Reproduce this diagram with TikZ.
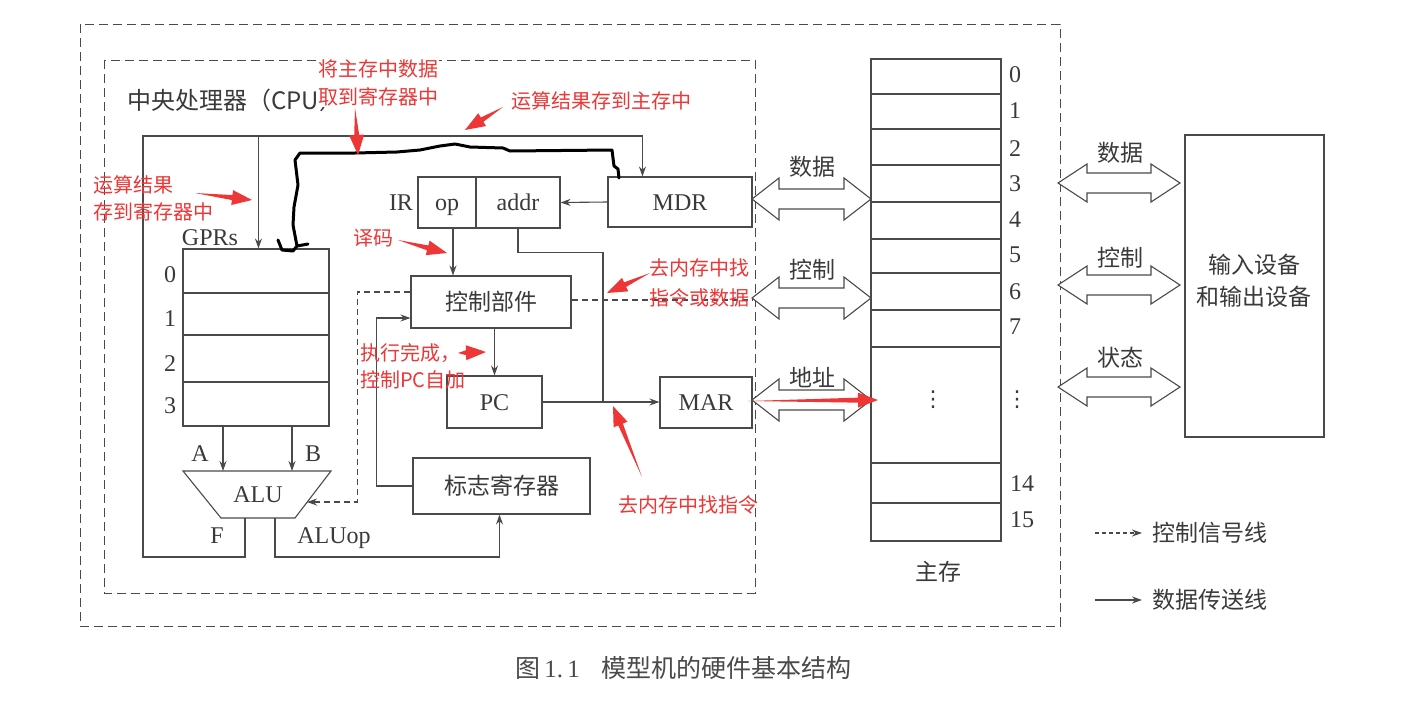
\documentclass[tikz,border=0pt]{standalone}
\usepackage{fontspec}
\setmainfont{Liberation Serif}
\newfontfamily\cjk{Noto Sans CJK SC}
\newfontfamily\dvs{DejaVu Sans}
\usetikzlibrary{arrows.meta,calc}
\definecolor{lc}{HTML}{4A4A4A}
\definecolor{tc}{HTML}{3A3A3A}
\definecolor{annored}{HTML}{EE3636}
\newcommand\fsLat{\fontsize{24}{28}\selectfont}
\newcommand\fsCJK{\cjk\fontsize{23}{27}\selectfont}
\newcommand\fsNote{\cjk\fontsize{20}{28}\selectfont}
\newcommand\dblarr[5]{%
 \draw[ln,fill=white] (#1,#3) -- ({#1+#4},{#3-#5}) -- ({#1+#4},{#3-10}) -- ({#2-#4},{#3-10}) -- ({#2-#4},{#3-#5}) -- (#2,#3) -- ({#2-#4},{#3+#5}) -- ({#2-#4},{#3+10}) -- ({#1+#4},{#3+10}) -- ({#1+#4},{#3+#5}) -- cycle;}
\newcommand\redarr[2]{%
 \fill[annored] (#1) -- ($($(#2)!20pt!(#1)$)!2.5pt!90:(#2)$) -- ($($(#2)!20pt!(#1)$)!7.5pt!90:(#2)$) -- (#2) -- ($($(#2)!20pt!(#1)$)!7.5pt!-90:(#2)$) -- ($($(#2)!20pt!(#1)$)!2.5pt!-90:(#2)$) -- cycle;}
\tikzset{
 ln/.style={draw=lc, line width=1.1pt},
 box/.style={ln, inner sep=0pt, font=\fsLat, text=tc, text height=16pt, text depth=0pt},
 cbox/.style={ln, inner sep=0pt, font=\fsCJK, text=tc},
 arr/.style={ln, -{Stealth[length=10pt,width=7pt]}},
 ctl/.style={ln, dash pattern=on 6pt off 4pt},
 ctlarr/.style={ctl, -{Stealth[length=10pt,width=7pt]}},
 frame/.style={draw=lc, line width=1pt, dash pattern=on 9pt off 5pt},
 lat/.style={font=\fsLat, text=tc, inner sep=0pt, text height=16pt, text depth=0pt},
 cj/.style={font=\fsCJK, text=tc, inner sep=0pt},
 dots/.style={font=\dvs\fontsize{22}{26}\selectfont, text=tc, inner sep=0pt},
 note/.style={font=\fsNote, text=annored, align=left, anchor=west, inner sep=0pt},
 mrow/.style={ln, minimum width=130, inner sep=0pt},
}
\begin{document}
\begin{tikzpicture}[x=1pt,y=-1pt]
\useasboundingbox (0,0) rectangle (1418,715);
\fill[white] (0,0) rectangle (1418,715);

% frames
\draw[frame] (80,24) rectangle (1060,626);
\draw[frame] (104,60) rectangle (755,593);
\node[anchor=west, inner sep=0pt, text=tc] (cpulbl) at (127,100) {\fontsize{24}{28}\cjk 中央处理器（\fsLat CPU\fontsize{24}{28}\cjk ）};

% registers / units
\node[box, minimum width=58, minimum height=51] (op) at (447,202.5) {op};
\node[box, minimum width=84, minimum height=51] (addr) at (518,202.5) {addr};
\node[lat] (irl) at (401,202) {IR};
\node[box, minimum width=144, minimum height=50] (mdr) at (680,202) {MDR};
\node[cbox, minimum width=160, minimum height=52] (ctrl) at (491,302) {控制部件};
\node[box, minimum width=95, minimum height=52] (pc) at (494.5,402) {PC};
\node[box, minimum width=92, minimum height=51] (mar) at (706,402.5) {MAR};
\node[cbox, minimum width=177, minimum height=56] (flag) at (501.5,486) {标志寄存器};

% GPRs
\node[lat] (gprl) at (210,237) {GPRs};
\node[box, minimum width=146, minimum height=44] (g0) at (256,271) {};
\node[box, minimum width=146, minimum height=42] (g1) at (256,314) {};
\node[box, minimum width=146, minimum height=47] (g2) at (256,358.5) {};
\node[box, minimum width=146, minimum height=44] (g3) at (256,404) {};
\node[lat] (g0l) at (170,274) {0};
\node[lat] (g1l) at (170,318) {1};
\node[lat] (g2l) at (170,363) {2};
\node[lat] (g3l) at (170,405) {3};

% ALU
\draw[ln] (183,471) -- (331,471) -- (295,518) -- (221,518) -- cycle;
\node[lat] (alu) at (258,494) {ALU};
\coordinate (aluA) at (223,471);
\coordinate (aluB) at (292,471);
\coordinate (aluF) at (245,518);
\coordinate (aluOp) at (275,518);
\coordinate (aluR) at (307,502);
\node[lat] (al) at (200,453) {A};
\node[lat] (bl) at (313,453) {B};
\node[lat] (fl) at (217,535) {F};
\node[lat] (aluopl) at (334,535) {ALUop};

% data paths
\coordinate (mdrIn) at ($(mdr.north west)+(35,0)$);
\coordinate (gIn) at ($(g0.north west)+(76,0)$);
\coordinate (topL) at (143,136);
\coordinate (topG) at (gIn |- topL);
\coordinate (topM) at (mdrIn |- topL);
\draw[arr] (aluF) -- ++(0,39) -| (topL) -- (topM) -- (mdrIn);
\draw[arr] (topG) -- (gIn);
\draw[arr] (g3.south -| aluA) -- (aluA);
\draw[arr] (g3.south -| aluB) -- (aluB);
\draw[arr] (aluOp) -- ++(0,39) -| ($(flag.south)+(-2,0)$);
\draw[arr] (mdr.west) -- (addr.east);
\coordinate (opOut) at ($(op.south)+(6,0)$);
\draw[arr] (opOut) -- (opOut |- ctrl.north);
\draw[arr] (pc.north |- ctrl.south) -- (pc.north);
\draw[arr] (pc.east) -- (mar.west |- pc.east);
\coordinate (jn) at (603,402);
\draw[ln] (addr.south) -- ++(0,24) -| (jn);
\draw[arr] (flag.west) -- ++(-36,0) |- ($(ctrl.west)+(0,16)$);
% control paths
\draw[ctlarr] ($(ctrl.west)+(0,-10)$) -- ++(-53,0) |- (aluR);
\coordinate (ctlOut) at (752,300);
\draw[ctl] ($(ctrl.east)+(0,-2)$) -- (ctlOut);

% main memory
\node[mrow, minimum height=35] (m0) at (936,76.5) {};
\node[mrow, minimum height=35] (m1) at (936,111.5) {};
\node[mrow, minimum height=36] (m2) at (936,147) {};
\node[mrow, minimum height=37] (m3) at (936,183.5) {};
\node[mrow, minimum height=37] (m4) at (936,220.5) {};
\node[mrow, minimum height=34] (m5) at (936,256) {};
\node[mrow, minimum height=37] (m6) at (936,291.5) {};
\node[mrow, minimum height=37] (m7) at (936,328.5) {};
\node[mrow, minimum height=116] (mdots) at (936,405) {};
\node[dots] (mdl) at (933,400) {⋮};
\node[mrow, minimum height=40] (m14) at (936,483) {};
\node[mrow, minimum height=38] (m15) at (936,522) {};
\node[lat] (n0) at (1015,74) {0};
\node[lat] (n1) at (1015,110) {1};
\node[lat] (n2) at (1015,148) {2};
\node[lat] (n3) at (1015,183) {3};
\node[lat] (n4) at (1015,219) {4};
\node[lat] (n5) at (1015,254) {5};
\node[lat] (n6) at (1015,291) {6};
\node[lat] (n7) at (1015,326) {7};
\node[dots] (nd) at (1017,400) {⋮};
\node[lat] (n14) at (1022,483) {14};
\node[lat] (n15) at (1022,519) {15};
\node[cj] (ml) at (938,572) {主存};

% buses
\dblarr{752}{871}{199}{27}{21}
\dblarr{752}{871}{298}{27}{21}
\dblarr{752}{871}{400}{27}{21}
\node[cj] (b1) at (812,167) {数据};
\node[cj] (b2) at (812,270) {控制};
\node[cj] (b3) at (812,377) {地址};
\dblarr{1058}{1180}{183}{29}{19}
\dblarr{1058}{1180}{285}{29}{19}
\dblarr{1058}{1180}{387}{29}{19}
\node[cj] (r1) at (1120,153) {数据};
\node[cj] (r2) at (1120,258) {控制};
\node[cj] (r3) at (1120,358) {状态};
\node[cbox, minimum width=139, minimum height=302] (io) at (1254.5,286) {};
\node[cj, align=center, font=\cjk\fontsize{23}{32}\selectfont] (iol) at (1254,281) {输入设备\\和输出设备};

% legend
\coordinate (lg1a) at (1095,533);
\coordinate (lg1b) at (1142,533);
\coordinate (lg2a) at (1095,600);
\coordinate (lg2b) at (1142,600);
\draw[ctlarr, dash pattern=on 4pt off 3pt] (lg1a) -- (lg1b);
\draw[arr] (lg2a) -- (lg2b);
\node[cj, anchor=west] (lg1) at (1152,533) {控制信号线};
\node[cj, anchor=west] (lg2) at (1152,600) {数据传送线};

% caption
\node[anchor=west, inner sep=0pt, text=lc] (cap) at (515,668) {\cjk\fontsize{25}{28}\selectfont 图\,{\rmfamily 1.\,1}\hspace{22pt}模型机的硬件基本结构};

% hand-drawn black line
\draw[black, line width=3pt, line join=round, line cap=round]
 (278,240) -- (282,250) -- (293,251) -- (297,246) -- (308,244)
 (297,246) -- (293,225) -- (294,207) -- (298,185) -- (295,160) -- (300,153)
 -- (355,153) -- (397,152) -- (420,150) -- (440,146) -- (455,144) -- (470,147) -- (503,148) -- (510,151)
 -- (612,150) -- (614,166) -- (618,169) -- (619,178);

% red annotations
\node[note, fill=white, inner sep=1pt] (t1) at (317,82.5) {将主存中数据\\取到寄存器中};
\node[note] (t2) at (511,101) {运算结果存到主存中};
\node[note, font=\cjk\fontsize{20}{27}\selectfont] (t3) at (93,198.5) {运算结果\\存到寄存器中};
\node[note] (t4) at (353,238) {译码};
\node[note, font=\cjk\fontsize{20}{30}\selectfont] (t5) at (649,283) {去内存中找\\指令或数据};
\node[note, font=\cjk\fontsize{20}{27}\selectfont] (t6) at (360,366.5) {执行完成，\\控制PC自加};
\node[note] (t7) at (618,505) {去内存中找指令};
\coordinate (a1s) at (355,108); \coordinate (a1e) at (358,155);
\coordinate (a2s) at (503,107); \coordinate (a2e) at (465,130);
\coordinate (a3s) at (195,193); \coordinate (a3e) at (252,200);
\coordinate (a4s) at (398,240); \coordinate (a4e) at (447,253);
\coordinate (a5s) at (650,273); \coordinate (a5e) at (607,293);
\coordinate (a6s) at (458,353); \coordinate (a6e) at (486,352);
\coordinate (a7s) at (642,477); \coordinate (a7e) at (613,406);
\coordinate (a8s) at (748,401); \coordinate (a8e) at (878,400);
\redarr{a1s}{a1e}
\redarr{a2s}{a2e}
\redarr{a3s}{a3e}
\redarr{a4s}{a4e}
\redarr{a5s}{a5e}
\redarr{a6s}{a6e}
\redarr{a7s}{a7e}
\redarr{a8s}{a8e}
\end{tikzpicture}
\end{document}
